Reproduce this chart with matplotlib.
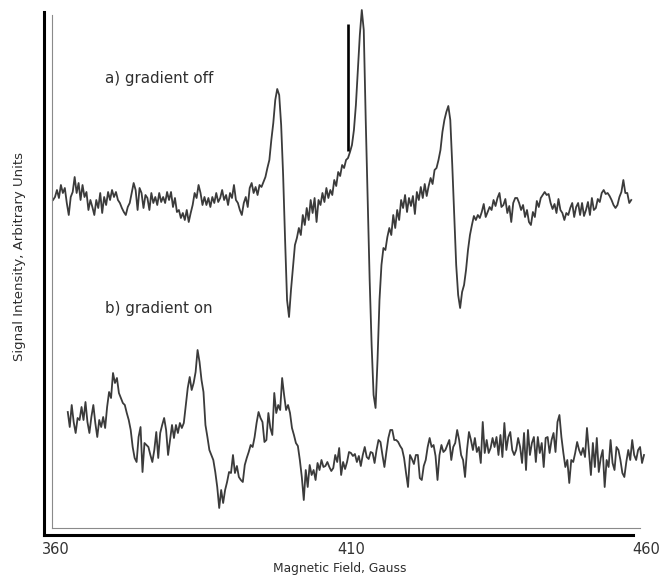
import numpy as np
import matplotlib
matplotlib.use("Agg")
import matplotlib.pyplot as plt

# ---------------- data ----------------
# field sweep (Gauss), uniform 1/3 G sampling
field_a_start, field_a_stop = 359.5, 457.5
field_b_start, field_b_stop = 362.0, 362.0 + 293 / 3.0

# a) gradient off  (arbitrary units, relative to its own baseline)
signal_a = [
    0, 3, 10, 2, 15, 7, 12, -3, -15, 3,
    8, 23, 7, 17, 0, 15, 3, 8, -10, 0,
    -7, -15, 0, -8, 7, -13, 3, -5, 8, 0,
    10, 3, 8, 0, -3, -8, -12, -15, -7, -3,
    7, 17, 10, -10, 12, 7, -8, 5, 2, -10,
    7, -3, 3, -5, 7, -2, 3, -3, 8, 0,
    8, -7, 2, -12, -10, -18, -13, -20, -10, -22,
    -13, -5, 7, 2, 15, 7, -5, 3, -5, 2,
    -7, 3, -3, 7, -2, 2, 10, 0, 5, -5,
    7, 2, 15, 0, -3, -10, -15, -3, 3, -7,
    12, 17, 7, 13, 5, 15, 13, 18, 23, 32,
    40, 60, 77, 100, 111, 105, 75, 25, -40, -100,
    -117, -90, -68, -45, -38, -28, -35, -15, -25, -8,
    -20, 0, -13, 2, -22, 0, -5, 7, -2, 12,
    2, 10, 5, 20, 14, 28, 24, 35, 32, 40,
    42, 48, 55, 70, 95, 130, 165, 190, 170, 80,
    0, -80, -145, -195, -208, -160, -100, -65, -48, -50,
    -37, -28, -35, -15, -28, -10, -20, 0, -8, 5,
    -12, 2, -6, 4, -14, 8, 0, 13, 2, 16,
    4, 14, 22, 16, 30, 32, 40, 50, 68, 80,
    88, 94, 80, 35, -15, -65, -95, -108, -92, -85,
    -70, -50, -35,
    -25, -16, -20, -15, -18, -12, -4,
    -17, -12, -7, -10, 0, -6, 2, 7, -7, -5,
    1, -13, -6, -22, -3, 2, 2, -3, -10, -5,
    -17, -10, -22, -25, -12, -17, -1, -7, 2, 5,
    8, 5, 6, -3, -9, -4, -13, 1, -10, -13,
    -20, -13, -15, -8, -3, -17, -7, -3, -15, -3,
    -16, -10, -2, -15, 2, -10, -8, 1, -2, 7,
    10, 6, 7, 4, 0, -5, -8, -5, 3, 8,
    20, 7, 7, -3, 0,
]

# b) gradient on
signal_b = [
    38, 23, 45, 28, 17, 32, 30, 43, 30, 48,
    28, 17, 33, 45, 27, 13, 30, 23, 33, 22,
    43, 58, 52, 77, 67, 72, 57, 52, 47, 45,
    37, 30, 20, 3, -8, -12, 13, 23, -22, 7,
    5, 3, -5, -12, 0, 18, -8, 17, 25, 32,
    20, -5, 10, 25, 12, 25, 17, 27, 22, 27,
    45, 62, 73, 60, 67, 78, 100, 88, 70, 58,
    25, 13, 0, -5, -10, -22, -37, -58, -40, -53,
    -40, -32, -22, -23, -5, -23, -16, -27, -30, -32,
    -15, -8, -2, 5, 3, 13, 27, 38, 32, 28,
    8, 10, 37, 22, 15, 57, 37, 45, 40, 72,
    55, 40, 45, 37, 22, 15, 7, 4, -10, -27,
    -50, -20, -37, -15, -25, -20, -30, -13, -20, -10,
    -17, -16, -12, -17, -21, -18, -5, -12, 2, -25,
    -12, -19, -12, -2, -3, -6, -4, -12, -6, -16,
    -5, 3, -7, -9, -2, -3, -13, 0, 10, 8,
    -5, -17, -2, 12, 20, 20, 10, 10, 8, 4,
    1, -8, -23, -37, -5, -9, -14, -5, -5, -28,
    -30, -16, -10, 3, 12, 3, 5, -6, -30, -5,
    5, -2, 0, 5, 10, -10, 3, 7, 20, 10,
    -5, -10, -27, 0, 18, 10, 0, 12, -2, 3,
    -13, 28, -3, 10, -3, 2, 12, 3, 13, -5,
    15, -7, 27, 0, 13, 18, 0, -5, 0, 12,
    3, -13, 17, -20, 20, -5, 7, 13, -12, 13,
    -3, 7, -17, 12, 13, -3, 10, 17, -2, 28,
    35, 13, -3, -17, -10, -33, -10, -12, -3, 8,
    0, -5, 2, -7, 22, -2, -25, 7, -17, 12,
    -22, -8, 0, -37, -10, -17, 10, -13, -20, 3,
    0, -10, -23, -27, -12, 0, -10, 10, -5, -10,
    0, 3, -13, -5,
]

tick_values = [360, 410, 460]
tick_labels = ["360", "410", "460"]
label_a = "a) gradient off"
label_b = "b) gradient on"
x_title = "Magnetic Field, Gauss"
y_title = "Signal Intensity, Arbitrary Units"

# ---------------- layout / style ----------------
offset_a = 340
offset_b = 90
trace_color = "#3b3b3b"
text_color = "#2e2e2e"

field_a = np.linspace(field_a_start, field_a_stop, len(signal_a))
field_b = np.linspace(field_b_start, field_b_stop, len(signal_b))

fig = plt.figure(figsize=(6.7, 5.84), dpi=100)
ax = fig.add_axes([44 / 670, 49 / 584, 611 / 670, 527 / 584])
ax.set_xlim(357.97, 461.53)
ax.set_ylim(5, 532)

ax.plot(field_a, np.array(signal_a) + offset_a, color=trace_color, lw=1.3,
        solid_joinstyle="round")
ax.plot(field_b, np.array(signal_b) + offset_b, color=trace_color, lw=1.3,
        solid_joinstyle="round")

# faint inner frame of the original scan
ax.axvline(359.32, ymin=0.013, ymax=0.986, color="#8a8a8a", lw=0.8)
ax.axhline(12, xmin=0.013, xmax=0.975, color="#8a8a8a", lw=0.8)

# vertical scale bar
ax.vlines(409.5, 389, 516, color="black", lw=1.9)

ax.text(368.3, 462, label_a, fontsize=10.8, color=text_color, va="center")
ax.text(368.3, 232, label_b, fontsize=10.8, color=text_color, va="center")

for side in ("top", "right"):
    ax.spines[side].set_visible(False)
for side in ("left", "bottom"):
    ax.spines[side].set_linewidth(2.2)
    ax.spines[side].set_color("black")
ax.spines["bottom"].set_bounds(357.97, 457.8)
ax.spines["left"].set_bounds(5, 528)

ax.set_xticks(tick_values)
ax.set_xticklabels(tick_labels, fontsize=10.5, color="#333333")
ax.tick_params(axis="x", length=0, pad=5)
ax.set_yticks([])
ax.set_xlabel(x_title, fontsize=8.8, color=text_color)
ax.set_ylabel(y_title, fontsize=9.5, color=text_color)
ax.xaxis.set_label_coords(0.484, -0.052)
ax.yaxis.set_label_coords(-0.029, 0.529)

fig.savefig("out.png", dpi=100)
